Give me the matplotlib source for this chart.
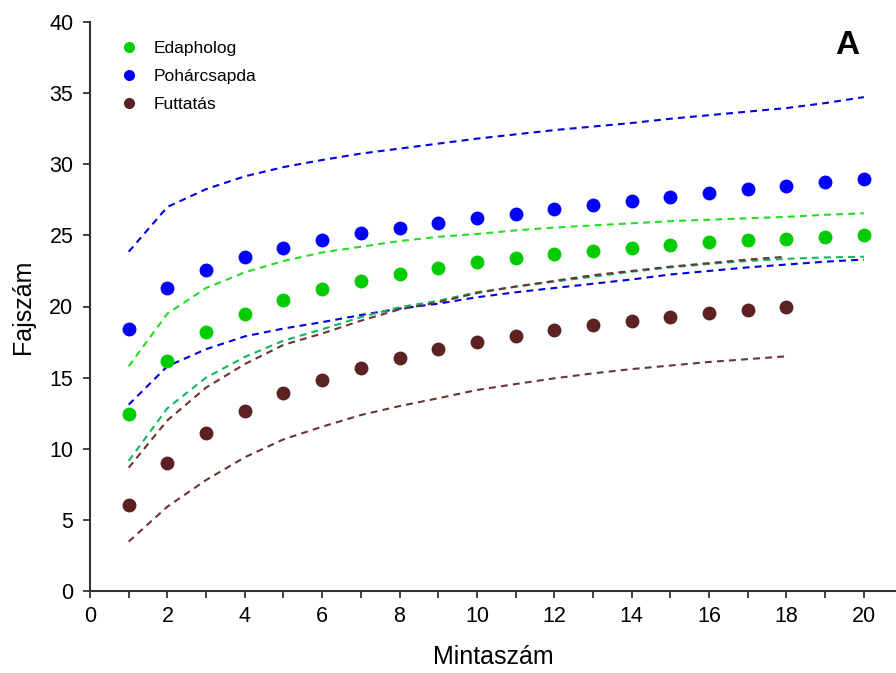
#!/usr/bin/env python3
import matplotlib
matplotlib.use('Agg')
import matplotlib.pyplot as plt
from matplotlib.ticker import MultipleLocator

plt.rcParams['font.family'] = ['Liberation Sans', 'DejaVu Sans']

samples = list(range(1, 21))

# observed species counts per sample size
edapholog = [12.45, 16.15, 18.2, 19.5, 20.45, 21.2, 21.8, 22.3, 22.7, 23.1,
             23.4, 23.67, 23.9, 24.13, 24.33, 24.5, 24.65, 24.77, 24.89, 25.0]
poharcsapda = [18.42, 21.3, 22.6, 23.5, 24.14, 24.67, 25.14, 25.52, 25.89, 26.2,
               26.53, 26.85, 27.11, 27.42, 27.7, 27.98, 28.24, 28.49, 28.75, 28.99]
futtatas = [6.07, 8.97, 11.08, 12.68, 13.9, 14.83, 15.68, 16.38, 16.99, 17.48,
            17.93, 18.32, 18.7, 19.0, 19.29, 19.54, 19.78, 19.99]

# 95% confidence bounds
edapholog_hi = [15.8, 19.5, 21.3, 22.4, 23.2, 23.8, 24.2, 24.6, 24.9, 25.1,
                25.35, 25.55, 25.7, 25.85, 26.0, 26.1, 26.2, 26.3, 26.45, 26.55]
edapholog_lo = [9.15, 12.85, 15.0, 16.45, 17.6, 18.4, 19.25, 19.95, 20.4, 21.0,
                21.4, 21.75, 22.1, 22.45, 22.75, 23.0, 23.2, 23.35, 23.45, 23.5]
poharcsapda_hi = [23.85, 27.0, 28.25, 29.15, 29.8, 30.3, 30.75, 31.1, 31.45, 31.8,
                  32.1, 32.4, 32.65, 32.9, 33.2, 33.45, 33.7, 33.95, 34.3, 34.72]
poharcsapda_lo = [13.1, 15.8, 17.0, 17.9, 18.45, 18.9, 19.4, 19.85, 20.2, 20.65,
                  21.0, 21.3, 21.6, 21.9, 22.25, 22.5, 22.75, 22.95, 23.15, 23.3]
futtatas_hi = [8.67, 12.0, 14.3, 15.95, 17.3, 18.1, 19.0, 19.8, 20.3, 20.95,
               21.4, 21.8, 22.2, 22.5, 22.8, 23.05, 23.3, 23.5]
futtatas_lo = [3.47, 5.93, 7.8, 9.4, 10.66, 11.55, 12.37, 13.0, 13.55, 14.13,
               14.55, 14.95, 15.3, 15.6, 15.85, 16.1, 16.3, 16.5]

labels = ['Edapholog', 'Pohárcsapda', 'Futtatás']
dot_colors = ['#00cc00', '#0000ff', '#5c2222']

fig = plt.figure(figsize=(8.96, 6.73), dpi=100)
ax = fig.add_axes((90 / 896, 82 / 673, 806 / 896, 569 / 673))

dash = dict(linewidth=1.5, dashes=(3.3, 2.5))
ax.plot(samples, poharcsapda_hi, color='#0000e0', **dash)
ax.plot(samples, poharcsapda_lo, color='#0000e0', **dash)
ax.plot(samples, edapholog_hi, color='#22dd22', **dash)
ax.plot(samples, edapholog_lo, color='#10b860', **dash)
ax.plot(samples[:18], futtatas_hi, color='#6b3333', **dash)
ax.plot(samples[:18], futtatas_lo, color='#6b3333', **dash)

series = [edapholog, poharcsapda, futtatas]
for vals, lab, col in zip(series, labels, dot_colors):
    ax.plot(samples[:len(vals)], vals, 'o', color=col, markersize=10,
            markeredgewidth=0, label=lab, zorder=3)

ax.set_xlim(0, 20.83)
ax.set_ylim(0, 40)
ax.xaxis.set_major_locator(MultipleLocator(2))
ax.xaxis.set_minor_locator(MultipleLocator(1))
ax.yaxis.set_major_locator(MultipleLocator(5))
ax.tick_params(which='both', direction='out', length=5, width=1.2,
               color='#222222', labelsize=15.5)
ax.tick_params(axis='y', pad=7)
ax.tick_params(axis='x', pad=6)

for side in ('top', 'right'):
    ax.spines[side].set_visible(False)
for side in ('left', 'bottom'):
    ax.spines[side].set_linewidth(1.5)
    ax.spines[side].set_color('#333333')

ax.set_xlabel('Mintaszám', fontsize=18, labelpad=13)
ax.set_ylabel('Fajszám', fontsize=18, labelpad=10)

leg = ax.legend(loc='upper left', bbox_to_anchor=(0.005, 1.01), frameon=False,
                fontsize=12.5, markerscale=0.8, handlelength=1.2,
                handletextpad=0.85, labelspacing=0.75, borderaxespad=1.0)

ax.text(0.94, 0.958, 'A', transform=ax.transAxes, fontsize=24,
        fontweight='bold', ha='center', va='center')

fig.savefig('out.png', dpi=100)
